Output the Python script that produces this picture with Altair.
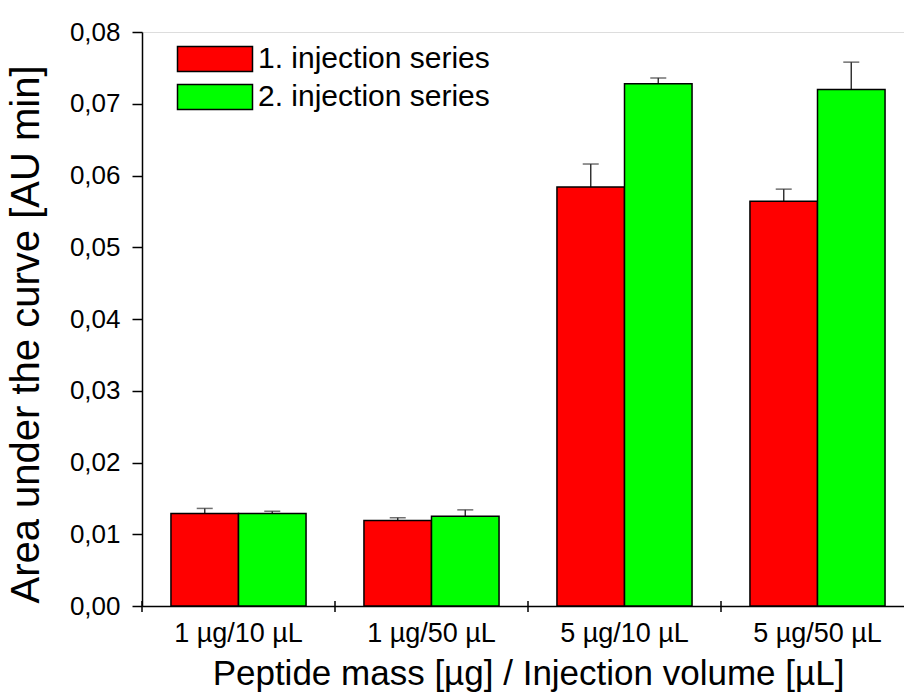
import altair as alt
import pandas as pd

# Peak area per sample condition, two injection series (mean and upper error)
categories = ["1 µg/10 µL", "1 µg/50 µL", "5 µg/10 µL", "5 µg/50 µL"]
series_names = ["1. injection series", "2. injection series"]
series1 = [0.0129, 0.0119, 0.0584, 0.0564]
err1 = [0.0007, 0.0004, 0.0032, 0.0017]
series2 = [0.0129, 0.0125, 0.0728, 0.0720]
err2 = [0.0003, 0.0009, 0.0008, 0.0038]
y_ticks = [round(i * 0.005, 3) for i in range(17)]

rows = []
for cat, v, e in zip(categories, series1, err1):
    rows.append({"cat": cat, "series": series_names[0], "value": v, "err": e})
for cat, v, e in zip(categories, series2, err2):
    rows.append({"cat": cat, "series": series_names[1], "value": v, "err": e})
df = pd.DataFrame(rows)
cat_df = pd.DataFrame({"cat": categories})

FONT = "Liberation Sans"

x_enc = alt.X(
    "cat:N",
    sort=categories,
    scale=alt.Scale(paddingInner=0.3, paddingOuter=0.15, range=[0, 772]),
    axis=alt.Axis(
        title="Peptide mass [µg] / Injection volume [µL]",
        titleFontSize=35,
        titleFont=FONT,
        titleFontWeight="normal",
        titleColor="black",
        titlePadding=10,
        labelFontSize=27,
        labelFont=FONT,
        labelColor="black",
        labelAngle=0,
        labelAlign="center",
        labelPadding=21,
        tickSize=6,
        tickOpacity=0,
        domainColor="black",
        domainWidth=1.5,
    ),
)
xoff = alt.XOffset("series:N", sort=series_names)

y_scale = alt.Scale(domain=[0, 0.08], nice=False)
y_axis = alt.Axis(
    title="Area under the curve [AU min]",
    titleFontSize=40,
    titleFont=FONT,
    titleFontWeight="normal",
    titleColor="black",
    titlePadding=23,
    titleY=302,
    titleAlign="center",
    values=y_ticks,
    labelExpr="round(datum.value * 1000) % 10 == 0 ? replace(format(datum.value, '.2f'), '.', ',') : ''",
    labelFontSize=26,
    labelFont=FONT,
    labelColor="black",
    labelPadding=12,
    tickSize={"condition": {"test": "round(datum.value * 1000) % 10 == 0", "value": 10}, "value": 5},
    tickWidth=1.5,
    tickColor="black",
    domainColor="black",
    domainWidth=1.5,
    grid=False,
)

# Wide legend swatch: a 6:2 rectangle whose nominal symbol box is its height
color = alt.Color(
    "series:N",
    sort=series_names,
    scale=alt.Scale(domain=series_names, range=["#ff0000", "#00ff00"]),
    legend=alt.Legend(
        title=None,
        orient="none",
        legendX=58,
        legendY=12,
        padding=0,
        symbolType="M-3,-1H3V1H-3Z",
        symbolSize=625,
        symbolStrokeColor="black",
        symbolStrokeWidth=1.5,
        symbolOpacity=1,
        labelFontSize=30,
        labelFont=FONT,
        labelColor="black",
        labelOffset=28,
        labelLimit=400,
        rowPadding=6,
    ),
)

base = alt.Chart(df)

bars = base.mark_bar(stroke="black", strokeWidth=1.5, opacity=1).encode(
    x=x_enc,
    xOffset=xoff,
    y=alt.Y("value:Q", scale=y_scale, axis=y_axis),
    color=color,
)

err_line = base.transform_calculate(upper="datum.value + datum.err").mark_rule(
    color="#333333", strokeWidth=1.5
).encode(
    x=alt.X("cat:N", sort=categories),
    xOffset=xoff,
    y=alt.Y("value:Q"),
    y2="upper:Q",
)

err_cap = base.transform_calculate(upper="datum.value + datum.err").mark_tick(
    color="#333333", thickness=1.5, size=16, orient="horizontal"
).encode(
    x=alt.X("cat:N", sort=categories),
    xOffset=xoff,
    y=alt.Y("upper:Q"),
)

# Category boundary ticks crossing the x axis (half a cell left of each center)
boundary_ticks = alt.Chart(cat_df).mark_rule(
    color="black", strokeWidth=1.5, xOffset=-96.5
).encode(
    x=alt.X("cat:N", sort=categories),
    y=alt.value(569),
    y2=alt.value(580),
)

chart = (
    alt.layer(err_line, err_cap, bars, boundary_ticks)
    .properties(
        width=762,
        height=574,
        autosize=alt.AutoSizeParams(type="none"),
        padding={"left": 142, "top": 32, "right": 0, "bottom": 89},
    )
    .configure_view(stroke=None)
    .configure(background="white")
)

chart.save("out.html", embed_options={"renderer": "svg", "actions": False})
